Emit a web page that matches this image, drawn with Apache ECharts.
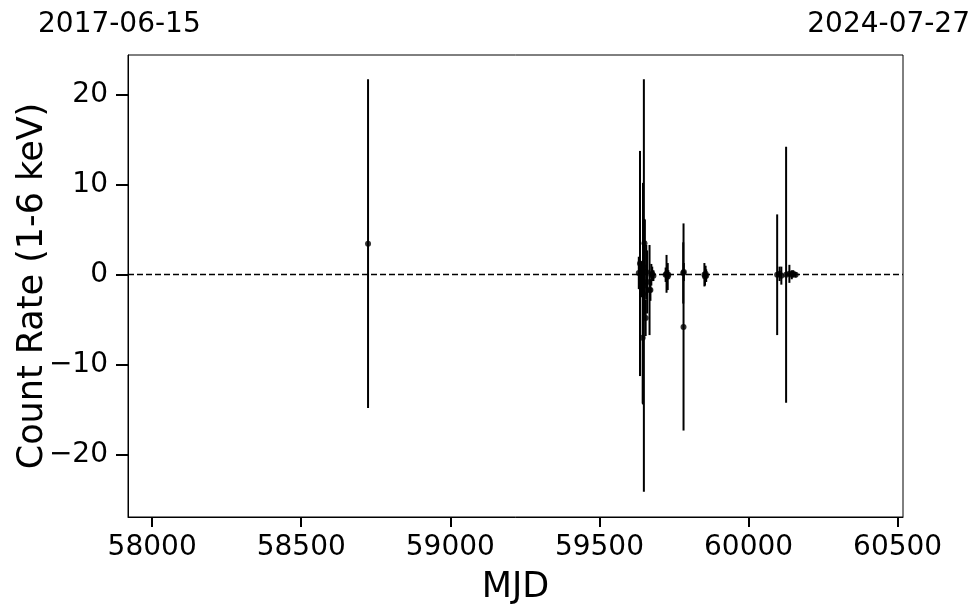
<!DOCTYPE html>
<html>
<head>
<meta charset="utf-8">
<script src="https://cdn.jsdelivr.net/npm/echarts@6/dist/echarts.min.js"></script>
<style>html,body{margin:0;padding:0;background:#fff}#c{width:980px;height:613px}</style>
</head>
<body>
<div id="c"></div>
<script>
// MJD of each observation
const mjd = [58724,
  59632, 59636, 59640, 59643, 59645, 59646, 59649, 59651, 59652, 59655, 59657, 59660, 59668, 59671, 59674, 59677, 59681,
  59722, 59725, 59729, 59731,
  59781, 59782, 59783,
  59852, 59854, 59856, 59858,
  60096, 60104, 60110, 60126, 60137, 60145, 60150, 60158];
// count rate (1-6 keV)
const rate = [3.45,
  0.2, 1.25, -0.5, -0.3, -7.0, -2.1, -1.2, 3.5, 0.8, -4.8, 0.3, -0.8, -1.7, -1.7, 0.0, 0.1, -0.1,
  0.0, 0.1, -0.2, 0.0,
  0.2, -5.8, 0.3,
  0.0, -0.2, 0.1, -0.1,
  0.0, 0.1, -0.1, 0.0, 0.1, 0.0, 0.1, 0.0];
// 1-sigma errors
const rateErr = [18.25,
  1.8, 12.5, 2.0, 1.5, 7.3, 12.3, 22.9, 2.7, 5.3, 2.0, 3.0, 3.5, 5.0, 1.2, 1.2, 0.8, 0.6,
  0.8, 2.1, 1.5, 0.5,
  3.4, 11.5, 1.0,
  1.3, 1.0, 0.9, 0.7,
  6.7, 0.8, 1.0, 14.2, 1.0, 0.5, 0.4, 0.3];
const xTicks = [58000, 58500, 59000, 59500, 60000, 60500];
const yTicks = [-20, -10, 0, 10, 20];
const topLabels = ['2017-06-15', '2024-07-27'];
const xRange = [57919, 60518];
const yRange = [-26.9, 24.4];

const FONT = 'DejaVu Sans';
const fmtNum = v => (v < 0 ? '\u2212' + Math.abs(v) : String(v));

const points = mjd.map((m, i) => [m, rate[i]]);
const bars = mjd.map((m, i) => [m, rate[i] - rateErr[i], rate[i] + rateErr[i]]);

const chart = echarts.init(document.getElementById('c'), null, {renderer: 'canvas'});
chart.setOption({
  animation: false,
  backgroundColor: '#fff',
  grid: {left: 128, right: 77, top: 55, bottom: 96, outerBoundsMode: 'none', containLabel: false,
    show: true, borderColor: '#000', borderWidth: 1, backgroundColor: 'transparent'},
  xAxis: {
    type: 'value', min: xRange[0], max: xRange[1],
    name: 'MJD', nameLocation: 'middle', nameGap: 53, nameMoveOverlap: false,
    nameTextStyle: {fontFamily: FONT, fontSize: 35, color: '#000'},
    axisLine: {show: true, onZero: false, lineStyle: {color: '#000', width: 1}},
    axisTick: {show: true, customValues: xTicks, length: 10, lineStyle: {color: '#000', width: 2}},
    axisLabel: {show: true, customValues: xTicks, margin: 17, fontFamily: FONT, fontSize: 28, color: '#000', formatter: v => String(v)},
    splitLine: {show: false}
  },
  yAxis: {
    type: 'value', min: yRange[0], max: yRange[1],
    name: 'Count Rate (1-6 keV)', nameLocation: 'middle', nameGap: 78, nameRotate: 90, nameMoveOverlap: false,
    nameTextStyle: {fontFamily: FONT, fontSize: 35, color: '#000'},
    axisLine: {show: true, onZero: false, lineStyle: {color: '#000', width: 1}},
    axisTick: {show: true, customValues: yTicks, length: 12, lineStyle: {color: '#000', width: 2}},
    axisLabel: {show: true, customValues: yTicks, margin: 20, fontFamily: FONT, fontSize: 28, color: '#000', formatter: fmtNum},
    splitLine: {show: false}
  },
  graphic: [
    {type: 'text', left: 38, top: 11, style: {text: topLabels[0], font: '28px "DejaVu Sans"', fill: '#000'}},
    {type: 'text', right: 10, top: 11, style: {text: topLabels[1], font: '28px "DejaVu Sans"', fill: '#000'}}
  ],
  series: [
    {
      type: 'custom',
      data: bars,
      encode: {x: 0, y: [1, 2]},
      z: 2,
      renderItem: function (params, api) {
        const p1 = api.coord([api.value(0), api.value(1)]);
        const p2 = api.coord([api.value(0), api.value(2)]);
        return {type: 'line', shape: {x1: p1[0], y1: p1[1], x2: p2[0], y2: p2[1]},
          style: {stroke: '#000', lineWidth: 2}};
      }
    },
    {
      type: 'scatter',
      data: points,
      symbolSize: 6,
      itemStyle: {color: '#000'},
      z: 3,
      markLine: {
        silent: true, symbol: 'none', label: {show: false},
        lineStyle: {color: '#000', type: [6, 3], width: 1.4},
        data: [{yAxis: 0}]
      }
    }
  ]
});
</script>
</body>
</html>
